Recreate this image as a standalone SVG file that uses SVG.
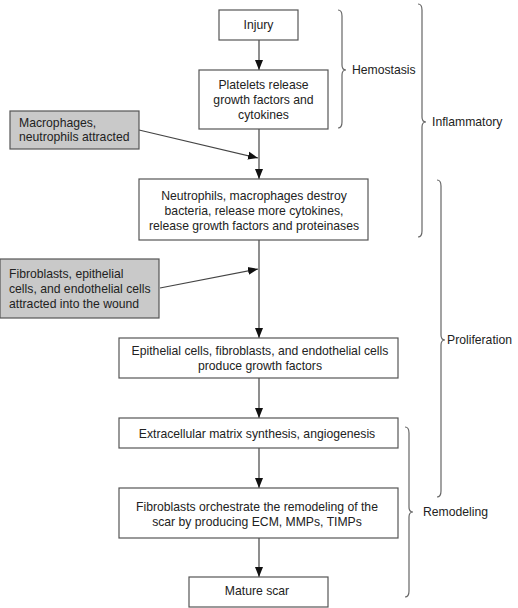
<svg xmlns="http://www.w3.org/2000/svg" width="518" height="608" viewBox="0 0 518 608">
<style>
.box{fill:#fff;stroke:#555;stroke-width:1.2}
.gbox{fill:#c9c9c9;stroke:#555;stroke-width:1.2}
text{font-family:"Liberation Sans",Arial,sans-serif;font-size:12.2px;fill:#222}
.c{text-anchor:middle}
.ln{stroke:#444;stroke-width:1.2;fill:none}
.br{stroke:#666;stroke-width:1.2;fill:none}
</style>
<defs>
<marker id="ah" markerUnits="userSpaceOnUse" markerWidth="10" markerHeight="10" viewBox="0 0 10 10" refX="10" refY="5" orient="auto">
<path d="M0,1 L10,5 L0,9 Z" fill="#111"/>
</marker>
</defs>
<rect width="518" height="608" fill="#fff"/>
<g id="connectors">
<line class="ln" x1="259" y1="40" x2="259" y2="70" marker-end="url(#ah)"/>
<line class="ln" x1="259" y1="129" x2="259" y2="179" marker-end="url(#ah)"/>
<line class="ln" x1="139" y1="130" x2="258" y2="158" marker-end="url(#ah)"/>
<line class="ln" x1="259" y1="240" x2="259" y2="338" marker-end="url(#ah)"/>
<line class="ln" x1="160" y1="288" x2="258" y2="269" marker-end="url(#ah)"/>
<line class="ln" x1="259" y1="378" x2="259" y2="418" marker-end="url(#ah)"/>
<line class="ln" x1="259" y1="448" x2="259" y2="488" marker-end="url(#ah)"/>
<line class="ln" x1="259" y1="538" x2="259" y2="577" marker-end="url(#ah)"/>
</g>
<g id="injury"><rect class="box" x="219" y="10" width="79" height="30"/><text class="c" x="258.5" y="29">Injury</text></g>
<g id="platelets"><rect class="box" x="199" y="70" width="129" height="59"/>
<text class="c" x="263.5" y="89">Platelets release</text><text class="c" x="263.5" y="104">growth factors and</text><text class="c" x="263.5" y="119">cytokines</text></g>
<g id="macrophages"><rect class="gbox" x="10" y="111" width="129" height="38"/>
<text x="19" y="127">Macrophages,</text><text x="19" y="141">neutrophils attracted</text></g>
<g id="neutrophils"><rect class="box" x="139" y="179" width="229" height="61"/>
<text class="c" x="254" y="200">Neutrophils, macrophages destroy</text><text class="c" x="254" y="215">bacteria, release more cytokines,</text><text class="c" x="254" y="230">release growth factors and proteinases</text></g>
<g id="fibroblasts-attracted"><rect class="gbox" x="0" y="259" width="159" height="59"/>
<text x="9" y="278">Fibroblasts, epithelial</text><text x="9" y="293">cells, and endothelial cells</text><text x="9" y="308">attracted into the wound</text></g>
<g id="epithelial"><rect class="box" x="119" y="338" width="279" height="40"/>
<text class="c" x="260" y="355">Epithelial cells, fibroblasts, and endothelial cells</text><text class="c" x="260" y="370">produce growth factors</text></g>
<g id="ecm"><rect class="box" x="119" y="418" width="279" height="30"/>
<text class="c" x="257" y="438">Extracellular matrix synthesis, angiogenesis</text></g>
<g id="remodel"><rect class="box" x="119" y="488" width="279" height="50"/>
<text class="c" x="257" y="511">Fibroblasts orchestrate the remodeling of the</text><text class="c" x="257" y="526">scar by producing ECM, MMPs, TIMPs</text></g>
<g id="mature"><rect class="box" x="189" y="577" width="139" height="30"/>
<text class="c" x="257" y="595">Mature scar</text></g>
<g id="hemostasis">
<path class="br" d="M338,10 Q342,10 342,16 L342,65 Q342,70 346,70 Q342,70 342,75 L342,122 Q342,128 338,128"/>
<text x="352" y="74">Hemostasis</text></g>
<g id="inflammatory">
<path class="br" d="M418,4 Q422,4 422,10 L422,117 Q422,122 426,122 Q422,122 422,127 L422,231 Q422,237 418,237"/>
<text x="432" y="126">Inflammatory</text></g>
<g id="proliferation">
<path class="br" d="M437,180 Q441,180 441,186 L441,335 Q441,340 445,340 Q441,340 441,345 L441,491 Q441,497 437,497"/>
<text x="447" y="344">Proliferation</text></g>
<g id="remodeling">
<path class="br" d="M405,427 Q409,427 409,433 L409,507 Q409,512 413,512 Q409,512 409,517 L409,591 Q409,597 405,597"/>
<text x="423" y="516">Remodeling</text></g>
</svg>
